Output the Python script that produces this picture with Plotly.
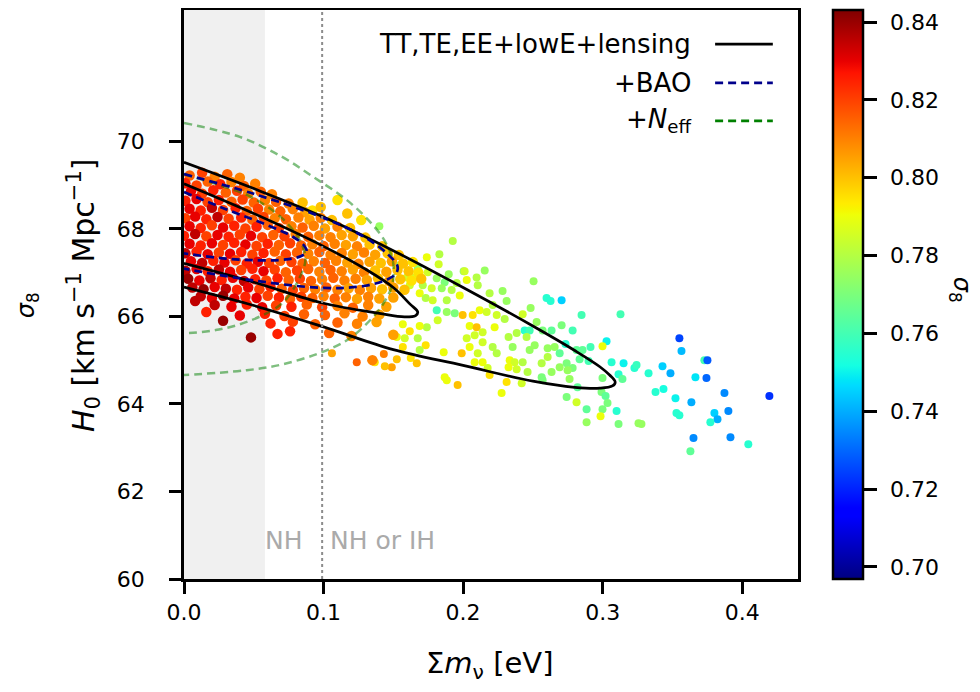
import plotly.graph_objects as go

# ---------------- data ----------------
# dense core of MCMC samples (sum m_nu [eV], H0, sigma8)
mnu_core = [
    0.004, 0.013, 0.022, 0.031, 0.040,
    0.001, 0.009, 0.017, 0.026, 0.034, 0.043, 0.051,
    0.005, 0.013, 0.021, 0.030, 0.038, 0.046, 0.055, 0.063,
    0.001, 0.009, 0.017, 0.025, 0.034, 0.042, 0.050, 0.058, 0.066, 0.075,
    0.004, 0.012, 0.020, 0.028, 0.037, 0.045, 0.053, 0.061, 0.069, 0.078, 0.087,
    0.001, 0.008, 0.016, 0.024, 0.032, 0.041, 0.049, 0.057, 0.065, 0.073, 0.082, 0.090, 0.098, 0.106,
    0.004, 0.012, 0.020, 0.028, 0.036, 0.044, 0.052, 0.060, 0.068, 0.077, 0.085, 0.093, 0.101, 0.110, 0.119,
    0.000, 0.008, 0.016, 0.024, 0.032, 0.040, 0.048, 0.056, 0.064, 0.072, 0.080, 0.089, 0.097, 0.105, 0.113, 0.121, 0.130,
    0.004, 0.012, 0.020, 0.028, 0.036, 0.044, 0.052, 0.060, 0.068, 0.076, 0.084, 0.092, 0.100, 0.108, 0.116, 0.124, 0.133, 0.142,
    0.001, 0.009, 0.017, 0.025, 0.033, 0.041, 0.049, 0.057, 0.065, 0.073, 0.081, 0.089, 0.097, 0.105, 0.113, 0.121, 0.129, 0.137, 0.146, 0.154,
    0.005, 0.013, 0.021, 0.029, 0.037, 0.045, 0.053, 0.061, 0.069, 0.077, 0.085, 0.093, 0.101, 0.109, 0.117, 0.125, 0.133, 0.141, 0.149, 0.157, 0.164,
    0.001, 0.009, 0.017, 0.025, 0.033, 0.041, 0.049, 0.057, 0.065, 0.073, 0.081, 0.089, 0.097, 0.105, 0.113, 0.121, 0.129, 0.137, 0.145, 0.153, 0.161, 0.168,
    0.003, 0.011, 0.019, 0.027, 0.035, 0.043, 0.051, 0.059, 0.067, 0.075, 0.083, 0.091, 0.099, 0.107, 0.115, 0.123, 0.131, 0.139, 0.147, 0.155, 0.163, 0.170,
    0.006, 0.014, 0.022, 0.030, 0.038, 0.046, 0.054, 0.062, 0.070, 0.078, 0.086, 0.094, 0.102, 0.110, 0.118, 0.126, 0.134, 0.142, 0.150, 0.158,
    0.012, 0.020, 0.028, 0.036, 0.044, 0.052, 0.060, 0.068, 0.076, 0.084, 0.092, 0.100, 0.108, 0.116, 0.124, 0.132, 0.140, 0.150,
    0.022, 0.034, 0.045, 0.056, 0.066, 0.077, 0.088, 0.099, 0.110, 0.121, 0.132, 0.145,
    0.016, 0.040, 0.058, 0.072, 0.086, 0.101, 0.115, 0.128, 0.140,
    0.028, 0.062, 0.078, 0.094, 0.110, 0.124, 0.138,
    0.048, 0.067, 0.076, 0.104, 0.120, 0.150,
    0.008, 0.085, 0.092, 0.110, 0.098, 0.117, 0.127, 0.135,
]
h0_core = [
    69.22, 69.28, 69.19, 69.25, 69.17,
    69.04, 68.99, 69.08, 69.02, 69.07, 68.98, 69.03,
    68.86, 68.80, 68.88, 68.83, 68.87, 68.81, 68.85, 68.79,
    68.64, 68.68, 68.61, 68.66, 68.62, 68.67, 68.60, 68.65, 68.62, 68.58,
    68.46, 68.42, 68.48, 68.43, 68.47, 68.41, 68.46, 68.44, 68.40, 68.45, 68.38,
    68.24, 68.28, 68.22, 68.27, 68.23, 68.26, 68.21, 68.27, 68.24, 68.22, 68.26, 68.21, 68.25, 68.20,
    68.06, 68.02, 68.08, 68.03, 68.07, 68.01, 68.05, 68.09, 68.02, 68.06, 68.03, 68.07, 68.01, 68.05, 68.02,
    67.84, 67.88, 67.83, 67.86, 67.82, 67.87, 67.84, 67.81, 67.86, 67.83, 67.88, 67.82, 67.85, 67.81, 67.86, 67.83, 67.80,
    67.66, 67.62, 67.67, 67.63, 67.68, 67.64, 67.61, 67.66, 67.63, 67.67, 67.62, 67.65, 67.61, 67.66, 67.63, 67.60, 67.64, 67.60,
    67.44, 67.48, 67.42, 67.46, 67.43, 67.47, 67.41, 67.45, 67.48, 67.42, 67.46, 67.43, 67.47, 67.41, 67.45, 67.42, 67.46, 67.41, 67.44, 67.40,
    67.26, 67.22, 67.27, 67.23, 67.28, 67.21, 67.25, 67.22, 67.27, 67.24, 67.21, 67.26, 67.22, 67.27, 67.23, 67.20, 67.25, 67.22, 67.26, 67.21, 67.24,
    67.04, 67.08, 67.03, 67.07, 67.02, 67.06, 67.09, 67.03, 67.07, 67.01, 67.05, 67.08, 67.02, 67.06, 67.03, 67.07, 67.01, 67.05, 67.02, 67.06, 67.03, 67.00,
    66.86, 66.82, 66.87, 66.83, 66.88, 66.81, 66.85, 66.82, 66.87, 66.83, 66.86, 66.81, 66.85, 66.88, 66.82, 66.86, 66.83, 66.87, 66.81, 66.85, 66.82, 66.86,
    66.66, 66.62, 66.67, 66.63, 66.61, 66.66, 66.62, 66.67, 66.63, 66.60, 66.65, 66.62, 66.66, 66.61, 66.64, 66.60, 66.65, 66.62, 66.66, 66.61,
    66.46, 66.42, 66.47, 66.41, 66.45, 66.42, 66.47, 66.43, 66.40, 66.45, 66.42, 66.46, 66.41, 66.44, 66.40, 66.45, 66.41, 66.43,
    66.26, 66.22, 66.27, 66.21, 66.25, 66.22, 66.27, 66.21, 66.24, 66.20, 66.26, 66.22,
    66.10, 66.02, 66.06, 66.01, 66.05, 66.03, 66.07, 66.00, 66.04,
    65.90, 65.84, 65.88, 65.82, 65.86, 65.83, 65.87,
    65.52, 65.60, 65.66, 65.62, 65.55, 65.58,
    66.35, 68.60, 68.42, 68.66, 68.50, 68.35, 68.20, 65.00,
]
s8_core = [
    0.815, 0.820, 0.810, 0.815, 0.810,
    0.825, 0.820, 0.815, 0.825, 0.810, 0.815, 0.810,
    0.830, 0.820, 0.825, 0.815, 0.820, 0.810, 0.815, 0.810,
    0.825, 0.830, 0.820, 0.825, 0.815, 0.820, 0.815, 0.810, 0.815, 0.810,
    0.830, 0.825, 0.835, 0.820, 0.825, 0.815, 0.820, 0.810, 0.815, 0.810, 0.805,
    0.820, 0.830, 0.825, 0.835, 0.820, 0.825, 0.815, 0.820, 0.810, 0.815, 0.810, 0.805, 0.810, 0.800,
    0.830, 0.825, 0.820, 0.830, 0.825, 0.820, 0.825, 0.815, 0.820, 0.810, 0.815, 0.810, 0.805, 0.810, 0.800,
    0.825, 0.835, 0.820, 0.830, 0.825, 0.820, 0.830, 0.820, 0.815, 0.820, 0.810, 0.815, 0.810, 0.810, 0.805, 0.805, 0.800,
    0.830, 0.825, 0.830, 0.820, 0.825, 0.830, 0.820, 0.825, 0.815, 0.820, 0.815, 0.810, 0.815, 0.810, 0.805, 0.810, 0.800, 0.800,
    0.835, 0.825, 0.830, 0.820, 0.830, 0.825, 0.820, 0.825, 0.815, 0.820, 0.815, 0.810, 0.815, 0.810, 0.810, 0.805, 0.810, 0.805, 0.800, 0.800,
    0.830, 0.835, 0.825, 0.830, 0.820, 0.825, 0.830, 0.820, 0.815, 0.820, 0.815, 0.810, 0.815, 0.810, 0.805, 0.810, 0.805, 0.800, 0.805, 0.800, 0.795,
    0.835, 0.830, 0.825, 0.835, 0.830, 0.820, 0.825, 0.830, 0.820, 0.815, 0.820, 0.815, 0.810, 0.815, 0.810, 0.805, 0.810, 0.800, 0.805, 0.800, 0.800, 0.795,
    0.840, 0.830, 0.835, 0.825, 0.830, 0.835, 0.825, 0.820, 0.825, 0.815, 0.820, 0.815, 0.810, 0.815, 0.810, 0.810, 0.805, 0.800, 0.805, 0.800, 0.795, 0.800,
    0.835, 0.840, 0.830, 0.835, 0.825, 0.830, 0.820, 0.825, 0.815, 0.820, 0.815, 0.810, 0.815, 0.810, 0.805, 0.810, 0.805, 0.800, 0.805, 0.800,
    0.835, 0.830, 0.840, 0.830, 0.825, 0.830, 0.820, 0.825, 0.815, 0.820, 0.815, 0.810, 0.815, 0.810, 0.805, 0.810, 0.805, 0.805,
    0.835, 0.830, 0.825, 0.830, 0.820, 0.825, 0.815, 0.820, 0.810, 0.815, 0.810, 0.805,
    0.825, 0.830, 0.825, 0.820, 0.815, 0.815, 0.810, 0.810, 0.805,
    0.840, 0.825, 0.820, 0.815, 0.815, 0.810, 0.805,
    0.840, 0.825, 0.825, 0.815, 0.810, 0.805,
    0.835, 0.800, 0.795, 0.795, 0.800, 0.800, 0.795, 0.810,
]

# sparser tail of samples towards larger neutrino mass
mnu_tail = [
    0.140, 0.1926, 0.174, 0.1825, 0.1546, 0.1675, 0.1747, 0.2004, 0.1897, 0.1811,
    0.1954, 0.1868, 0.1654, 0.1596, 0.1618, 0.1711, 0.1775, 0.1847, 0.1918, 0.1689,
    0.1732, 0.1782, 0.1883, 0.1811, 0.1883, 0.194, 0.1997, 0.174, 0.1818, 0.1568,
    0.1618, 0.1689, 0.1525, 0.1582, 0.1675, 0.1732, 0.1568, 0.1689, 0.1861, 0.1432,
    0.1525, 0.1625, 0.1489, 0.1367, 0.1439, 0.1238, 0.106, 0.1961, 0.1868, 0.1883,
    0.183, 0.1668,
    0.2011, 0.2097, 0.2155, 0.2026, 0.1976, 0.2105, 0.2190, 0.2283, 0.2505, 0.2312,
    0.2598, 0.2627, 0.2706, 0.2484, 0.2849, 0.3128, 0.2212, 0.2119, 0.2069, 0.2169,
    0.2241, 0.2298, 0.2427, 0.2441, 0.2477, 0.2527, 0.2570, 0.2634, 0.2706, 0.2785,
    0.2047, 0.2097, 0.2140, 0.2226, 0.2326, 0.2384, 0.2455, 0.2026, 0.2083, 0.2140,
    0.2212, 0.2047, 0.1990, 0.2105, 0.2241, 0.2355, 0.2477, 0.2513, 0.2606, 0.2656,
    0.2692, 0.2734, 0.2813, 0.2856, 0.2913, 0.3028, 0.2999, 0.2334, 0.2369, 0.2427,
    0.2563, 0.2606, 0.2692, 0.2742, 0.2785, 0.2835, 0.2899, 0.3064, 0.2083, 0.2140,
    0.2176, 0.2326, 0.2384, 0.2462, 0.2563, 0.2634, 0.2749, 0.2763, 0.2570, 0.2190,
    0.2312, 0.2420, 0.2820, 0.2999, 0.3114, 0.2992, 0.3021, 0.3035, 0.2742, 0.2813,
    0.2276, 0.2885, 0.2999, 0.3100, 0.2885, 0.2985, 0.3114,
    0.3550, 0.3565, 0.3150, 0.3228, 0.3243, 0.3329, 0.3429, 0.3486, 0.3729, 0.3751,
    0.3665, 0.3744, 0.3142, 0.3379, 0.3436, 0.3522, 0.3636, 0.3873, 0.4195, 0.3529,
    0.3550, 0.3801, 0.3823, 0.3901, 0.3772, 0.3257, 0.3278, 0.3651, 0.3916, 0.4044,
    0.3629,
]
h0_tail = [
    68.06, 67.72, 67.35, 67.19, 67.17, 67.10, 67.01, 67.03, 66.96, 66.87,
    66.76, 66.78, 66.89, 66.89, 66.71, 66.71, 66.64, 66.64, 66.60, 66.53,
    66.42, 66.37, 66.37, 66.14, 66.10, 66.07, 66.03, 65.75, 65.91, 65.82,
    65.66, 65.78, 65.53, 65.50, 65.50, 65.34, 65.30, 65.23, 65.18, 65.14,
    65.02, 65.05, 64.84, 64.95, 64.86, 64.95, 65.16, 64.43, 64.61, 64.54,
    67.42, 64.93,
    67.03, 66.89, 67.05, 66.83, 66.48, 66.71, 66.53, 66.58, 66.80, 66.35,
    66.42, 66.35, 66.37, 66.19, 66.03, 66.05, 66.26, 66.14, 66.03, 66.10,
    66.03, 65.94, 66.05, 65.68, 65.68, 65.87, 65.68, 65.68, 65.80, 65.68,
    65.78, 65.75, 65.64, 65.75, 65.53, 65.62, 65.53, 65.50, 65.57, 65.41,
    65.30, 65.30, 65.16, 65.16, 65.16, 65.30, 65.23, 65.34, 65.27, 65.30,
    65.16, 65.37, 65.23, 65.23, 65.30, 65.43, 65.32, 65.00, 64.95, 64.95,
    64.93, 65.07, 64.84, 64.93, 64.82, 65.02, 64.98, 64.95, 64.95, 64.95,
    64.82, 64.84, 64.79, 64.73, 64.61, 64.73, 64.77, 64.57, 64.54, 64.66,
    64.50, 64.47, 64.38, 64.59, 64.68, 64.27, 64.18, 64.02, 64.16, 64.04,
    64.25, 63.88, 63.88, 63.84, 63.58, 63.72, 63.54,
    65.50, 65.21, 64.93, 64.82, 64.89, 64.70, 64.86, 64.70, 65.00, 65.00,
    64.61, 64.59, 64.57, 64.27, 64.34, 64.13, 64.04, 64.25, 64.18, 63.79,
    63.74, 63.79, 63.65, 63.84, 63.58, 63.56, 63.54, 63.22, 63.24, 63.08,
    62.92,
]
s8_tail = [
    0.775, 0.780, 0.790, 0.785, 0.775, 0.775, 0.785, 0.775, 0.775, 0.775,
    0.780, 0.770, 0.785, 0.785, 0.785, 0.780, 0.785, 0.775, 0.780, 0.790,
    0.780, 0.785, 0.780, 0.760, 0.775, 0.770, 0.800, 0.780, 0.785, 0.790,
    0.795, 0.790, 0.790, 0.785, 0.780, 0.795, 0.795, 0.780, 0.790, 0.810,
    0.800, 0.795, 0.805, 0.795, 0.800, 0.815, 0.805, 0.800, 0.790, 0.790,
    0.780, 0.800,
    0.785, 0.780, 0.775, 0.790, 0.790, 0.780, 0.780, 0.775, 0.775, 0.775,
    0.755, 0.755, 0.745, 0.775, 0.760, 0.760, 0.780, 0.790, 0.795, 0.785,
    0.785, 0.780, 0.785, 0.755, 0.760, 0.775, 0.770, 0.765, 0.770, 0.760,
    0.790, 0.800, 0.785, 0.790, 0.780, 0.780, 0.780, 0.785, 0.785, 0.785,
    0.780, 0.790, 0.800, 0.785, 0.780, 0.775, 0.775, 0.775, 0.775, 0.775,
    0.765, 0.755, 0.765, 0.765, 0.760, 0.750, 0.790, 0.790, 0.785, 0.780,
    0.780, 0.780, 0.775, 0.770, 0.770, 0.765, 0.760, 0.755, 0.790, 0.790,
    0.785, 0.790, 0.785, 0.780, 0.770, 0.775, 0.775, 0.775, 0.770, 0.795,
    0.795, 0.785, 0.765, 0.770, 0.755, 0.770, 0.765, 0.770, 0.770, 0.785,
    0.790, 0.765, 0.770, 0.755, 0.775, 0.790, 0.770,
    0.725, 0.742, 0.750, 0.755, 0.758, 0.755, 0.745, 0.740, 0.760, 0.728,
    0.748, 0.730, 0.765, 0.755, 0.752, 0.750, 0.740, 0.735, 0.722, 0.755,
    0.755, 0.745, 0.740, 0.735, 0.755, 0.775, 0.775, 0.735, 0.735, 0.755,
    0.765,
]

# contour lines (68% / 95%)
tt_out_x = [0.000, 0.050, 0.100, 0.150, 0.200, 0.250, 0.280, 0.298, 0.305, 0.309, 0.307, 0.298, 0.280, 0.250, 0.200, 0.150, 0.100, 0.050, 0.000]
tt_out_y = [69.52, 68.92, 68.27, 67.50, 66.66, 65.78, 65.22, 64.85, 64.66, 64.50, 64.41, 64.36, 64.38, 64.52, 64.88, 65.24, 65.76, 66.25, 66.67]
tt_in_x = [0.000, 0.050, 0.100, 0.130, 0.150, 0.162, 0.1675, 0.166, 0.158, 0.140, 0.100, 0.050, 0.000]
tt_in_y = [69.03, 68.35, 67.60, 67.08, 66.66, 66.28, 66.10, 66.02, 65.99, 66.07, 66.30, 66.78, 67.21]
bao_out_x = [0.000, 0.050, 0.100, 0.130, 0.146, 0.153, 0.152, 0.146, 0.130, 0.100, 0.050, 0.000]
bao_out_y = [69.25, 68.80, 68.25, 67.80, 67.42, 67.15, 66.98, 66.85, 66.70, 66.65, 66.82, 67.09]
bao_in_x = [0.000, 0.030, 0.060, 0.078, 0.086, 0.088, 0.084, 0.075, 0.060, 0.030, 0.000]
bao_in_y = [68.84, 68.45, 68.08, 67.82, 67.62, 67.48, 67.38, 67.31, 67.28, 67.32, 67.44]
neff_out_x = [0.000, 0.040, 0.070, 0.093, 0.117, 0.135, 0.145, 0.150, 0.149, 0.143, 0.133, 0.117, 0.097, 0.070, 0.045, 0.000]
neff_out_y = [70.42, 70.10, 69.65, 69.18, 68.65, 68.10, 67.66, 67.20, 66.70, 66.30, 65.90, 65.46, 65.16, 64.90, 64.77, 64.66]
neff_in_x = [0.000, 0.025, 0.048, 0.070, 0.083, 0.087, 0.082, 0.070, 0.048, 0.025, 0.000]
neff_in_y = [69.25, 69.00, 68.73, 68.25, 67.74, 67.30, 66.83, 66.29, 65.91, 65.70, 65.61]

x_ticks = [0.0, 0.1, 0.2, 0.3, 0.4]
y_ticks = [60, 62, 64, 66, 68, 70]
cb_ticks = [0.70, 0.72, 0.74, 0.76, 0.78, 0.80, 0.82, 0.84]
nh_limit = 0.058     # minimal mass, normal hierarchy
ih_limit = 0.099     # minimal mass, inverted hierarchy
legend_labels = ["TT,TE,EE+lowE+lensing", "+BAO", "+<i>N</i><sub>eff</sub>"]

# ---------------- styling ----------------
FONT = "DejaVu Sans"
CMIN, CMAX = 0.6969, 0.8431
jet = [
    [0.0, "rgb(0,0,128)"], [0.11, "rgb(0,0,255)"], [0.125, "rgb(0,0,255)"],
    [0.34, "rgb(0,219,255)"], [0.35, "rgb(0,230,247)"], [0.375, "rgb(21,255,226)"],
    [0.5, "rgb(123,255,123)"], [0.64, "rgb(239,255,8)"], [0.65, "rgb(247,245,0)"],
    [0.66, "rgb(255,236,0)"], [0.89, "rgb(255,19,0)"], [0.91, "rgb(232,0,0)"],
    [1.0, "rgb(128,0,0)"],
]

fig = go.Figure()

fig.add_trace(go.Scatter(
    x=mnu_tail, y=h0_tail, mode="markers", hoverinfo="skip",
    marker=dict(size=8, color=s8_tail, colorscale=jet, cmin=CMIN, cmax=CMAX,
                line=dict(width=0), showscale=True,
                colorbar=dict(
                    x=1.057, xanchor="left", xpad=0, ypad=0,
                    y=0.5, yanchor="middle", len=1.0, lenmode="fraction",
                    thickness=30, thicknessmode="pixels",
                    outlinewidth=2.5, outlinecolor="black",
                    tickvals=cb_ticks, ticktext=["\u2009\u2009" + f"{v:.2f}" for v in cb_ticks],
                    ticks="outside", ticklen=13, tickwidth=2.5, tickcolor="black",
                    tickfont=dict(family=FONT, size=22, color="black"),
                )),
))
fig.add_trace(go.Scatter(
    x=mnu_core, y=h0_core, mode="markers", hoverinfo="skip",
    marker=dict(size=10.5, color=s8_core, colorscale=jet, cmin=CMIN, cmax=CMAX,
                line=dict(width=0), showscale=False),
))

green = "rgba(0,128,0,0.5)"
for xs, ys in [(neff_out_x, neff_out_y), (neff_in_x, neff_in_y)]:
    fig.add_trace(go.Scatter(x=xs, y=ys, mode="lines", hoverinfo="skip",
                             line=dict(color=green, width=2.5, dash="8px,5px", shape="spline", smoothing=1.0)))
for xs, ys in [(tt_out_x, tt_out_y), (tt_in_x, tt_in_y)]:
    fig.add_trace(go.Scatter(x=xs, y=ys, mode="lines", hoverinfo="skip",
                             line=dict(color="black", width=2.7, shape="spline", smoothing=1.0)))
for xs, ys in [(bao_out_x, bao_out_y), (bao_in_x, bao_in_y)]:
    fig.add_trace(go.Scatter(x=xs, y=ys, mode="lines", hoverinfo="skip",
                             line=dict(color="#00008b", width=2.7, dash="8px,5px", shape="spline", smoothing=1.0)))

# shaded NH-excluded region and IH boundary
fig.add_shape(type="rect", xref="x", yref="paper", x0=0, x1=nh_limit, y0=0, y1=1,
              fillcolor="#f0f0f0", line=dict(width=0), layer="below")
fig.add_shape(type="line", xref="x", yref="paper", x0=ih_limit, x1=ih_limit, y0=0, y1=1,
              line=dict(color="#8c8c8c", width=2, dash="dot"), layer="above")

ann = []
ann.append(dict(x=ih_limit - 0.012, y=60.87, xref="x", yref="y", text="NH", showarrow=False,
                xanchor="right", yanchor="middle", font=dict(family=FONT, size=25, color="#aaaaaa")))
ann.append(dict(x=ih_limit + 0.004, y=60.87, xref="x", yref="y", text="NH or IH", showarrow=False,
                xanchor="left", yanchor="middle", font=dict(family=FONT, size=25, color="#aaaaaa")))

# manual legend (text right, sample line on its right)
leg_y = [0.940, 0.872, 0.805]
leg_styles = [dict(color="black", width=2.7),
              dict(color="#00008b", width=2.7, dash="8px,5px"),
              dict(color="#008000", width=2.7, dash="8px,5px")]
for lab, yy, st in zip(legend_labels, leg_y, leg_styles):
    ann.append(dict(x=0.829, y=yy, xref="paper", yref="paper", text=lab, showarrow=False,
                    xanchor="right", yanchor="middle", font=dict(family=FONT, size=26, color="black")))
    fig.add_shape(type="line", xref="paper", yref="paper", x0=0.865, x1=0.959, y0=yy, y1=yy,
                  line=st, layer="above")

# axis titles
ann.append(dict(x=0.498, y=-0.152, xref="paper", yref="paper",
                text="Σ<i>m</i><sub>ν</sub> [eV]", showarrow=False,
                xanchor="center", yanchor="middle", font=dict(family=FONT, size=29, color="black")))
ann.append(dict(x=-0.1645, y=0.499, xref="paper", yref="paper", textangle=-90,
                text="<i>H</i><sub>0</sub> [km s<sup>−1</sup> Mpc<sup>−1</sup>]", showarrow=False,
                xanchor="center", yanchor="middle", font=dict(family=FONT, size=30, color="black")))
ann.append(dict(x=1.264, y=0.508, xref="paper", yref="paper", textangle=90,
                text="<i>σ</i><sub>8</sub>", showarrow=False,
                xanchor="center", yanchor="middle", font=dict(family=FONT, size=24, color="black")))
ann.append(dict(x=-0.255, y=0.482, xref="paper", yref="paper", textangle=-90,
                text="<i>σ</i><sub>8</sub>", showarrow=False,
                xanchor="center", yanchor="middle", font=dict(family=FONT, size=24, color="black")))

axis_common = dict(showgrid=False, zeroline=False, showline=True, linecolor="black", linewidth=2.5,
                   mirror=True, ticks="outside", ticklen=12, tickwidth=2.5, tickcolor="black",
                   tickfont=dict(family=FONT, size=22, color="black"))
fig.update_xaxes(range=[0, 0.44], tickvals=x_ticks, ticktext=[f"{v:.1f}" for v in x_ticks],
                 ticklabelstandoff=0, **axis_common)
fig.update_yaxes(range=[60, 73], tickvals=y_ticks, ticktext=[str(v) for v in y_ticks],
                 ticklabelstandoff=20, **axis_common)

# the page body adds an 8px margin, so the figure is 972x684 and margins are offset by 8px
fig.update_layout(width=972, height=684, margin=dict(l=176, r=182, t=2, b=113, autoexpand=False),
                  plot_bgcolor="white", paper_bgcolor="white", showlegend=False,
                  font=dict(family=FONT, size=22, color="black"), annotations=ann)

fig.write_html("out.html")
